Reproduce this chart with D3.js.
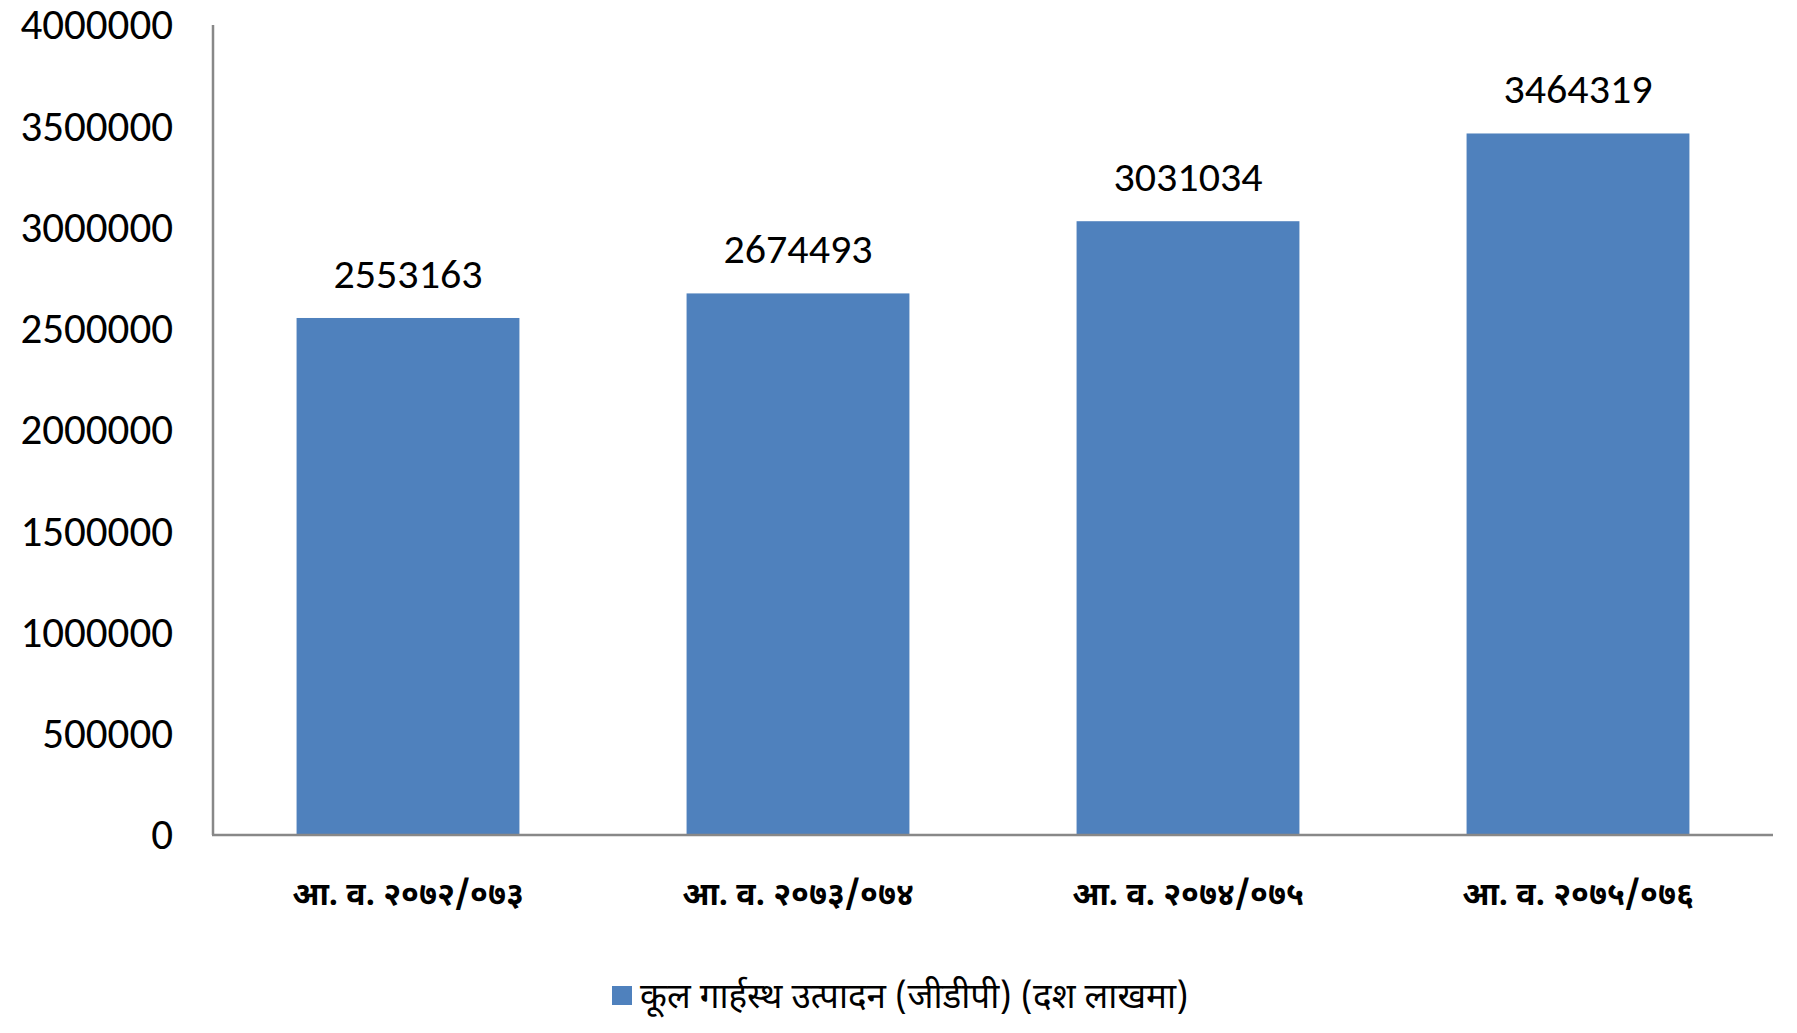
<!DOCTYPE html>
<html>
<head>
<meta charset="utf-8">
<script src="https://cdn.jsdelivr.net/npm/d3@7"></script>
<style>
  body { margin: 0; background: #fff; }
  .num { font-family: Carlito, Calibri, "Liberation Sans", Arial, sans-serif; fill: #000; }
  .dev { font-family: "Noto Sans Devanagari", Kalimati, Mangal, "Noto Sans", sans-serif; fill: #000; }
</style>
</head>
<body>
<svg id="chart" width="1797" height="1033"></svg>
<script>
// fiscal years (Nepali)
const categories = ['आ. व. २०७२/०७३', 'आ. व. २०७३/०७४', 'आ. व. २०७४/०७५', 'आ. व. २०७५/०७६'];
// GDP in millions
const gdpValues = [2553163, 2674493, 3031034, 3464319];
const yTicks = [0, 500000, 1000000, 1500000, 2000000, 2500000, 3000000, 3500000, 4000000];
const legendLabel = 'कूल गार्हस्थ उत्पादन (जीडीपी) (दश लाखमा)';

function drawChart() {
    const svg = d3.select('#chart');
    const plot = {left: 213, right: 1773, top: 25, bottom: 835};

    // Excel style gap width 75%
    const x = d3.scaleBand()
        .domain(categories)
        .range([plot.left, plot.right])
        .paddingInner(0.75 / 1.75)
        .paddingOuter(0.75 / 1.75 / 2);

    const y = d3.scaleLinear()
        .domain([0, 4000000])
        .range([plot.bottom, plot.top]);

    // bars
    svg.append('g')
        .selectAll('rect')
        .data(gdpValues)
        .enter().append('rect')
        .attr('x', (d, i) => x(categories[i]))
        .attr('y', d => y(d))
        .attr('width', x.bandwidth())
        .attr('height', d => y(0) - y(d))
        .attr('fill', '#4F81BD');

    // value labels
    svg.append('g')
        .selectAll('text')
        .data(gdpValues)
        .enter().append('text')
        .attr('class', 'num')
        .attr('x', (d, i) => x(categories[i]) + x.bandwidth() / 2)
        .attr('y', d => y(d) - 30)
        .attr('text-anchor', 'middle')
        .style('font-size', '42px')
        .text(d => d);

    // y axis labels, no ticks
    const yAxis = svg.append('g')
        .attr('transform', `translate(${plot.left},0)`)
        .call(d3.axisLeft(y).tickValues(yTicks).tickSize(0).tickPadding(40).tickFormat(d3.format('d')));
    yAxis.select('.domain').remove();
    yAxis.selectAll('text')
        .attr('class', 'num')
        .attr('fill', '#000')
        .style('font-size', '43px');

    // axis lines
    svg.append('line')
        .attr('x1', plot.left).attr('x2', plot.left)
        .attr('y1', plot.top).attr('y2', plot.bottom)
        .attr('stroke', '#888').attr('stroke-width', 2.5);
    svg.append('line')
        .attr('x1', plot.left - 1).attr('x2', plot.right)
        .attr('y1', plot.bottom).attr('y2', plot.bottom)
        .attr('stroke', '#888').attr('stroke-width', 2.5);

    // category labels
    svg.append('g')
        .selectAll('text')
        .data(categories)
        .enter().append('text')
        .attr('class', 'dev')
        .attr('x', d => x(d) + x.bandwidth() / 2)
        .attr('y', 905)
        .attr('text-anchor', 'middle')
        .style('font-size', '32px')
        .style('font-weight', 'bold')
        .text(d => d);

    // legend
    const legend = svg.append('g');
    legend.append('rect')
        .attr('x', 612).attr('y', 986)
        .attr('width', 20).attr('height', 19)
        .attr('fill', '#4F81BD');
    legend.append('text')
        .attr('class', 'dev')
        .attr('x', 640).attr('y', 1008)
        .style('font-size', '35px')
        .text(legendLabel);
}

drawChart();
</script>
</body>
</html>
